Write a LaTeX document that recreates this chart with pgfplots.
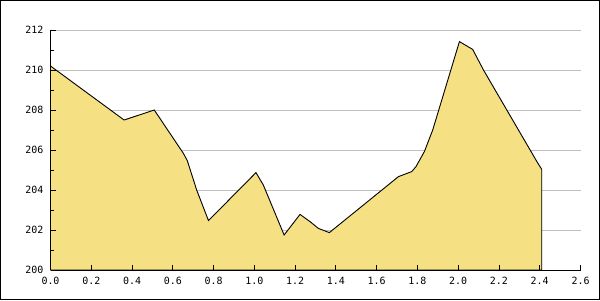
\documentclass[border=0pt]{standalone}
\usepackage{pgfplots}
\pgfplotsset{compat=1.18}
\usepackage{fontspec}
\setmainfont{DejaVu Sans Mono}
\definecolor{areafill}{RGB}{246,224,132}
\definecolor{gridgray}{RGB}{192,192,192}
\begin{document}
\begin{tikzpicture}[x=1bp,y=1bp]
\useasboundingbox (0,0) rectangle (600,300);
\fill[white] (0,0) rectangle (600,300);
\begin{axis}[
  axis on top,
  at={(50.5bp,30bp)}, anchor=south west,
  scale only axis, width=530bp, height=240bp,
  xmin=0, xmax=2.6, ymin=200, ymax=212,
  axis x line=bottom, axis y line=left,
  axis line style={-, black, line width=0.9bp},
  xtick={0,0.2,...,2.6},
  ytick={200,202,...,212},
  minor y tick num=1,
  tick align=inside,
  major tick length=5bp, minor tick length=3bp,
  tick style={black, line width=0.9bp},
  xticklabel style={/pgf/number format/fixed, /pgf/number format/fixed zerofill, /pgf/number format/precision=1, inner sep=0pt, yshift=-7bp},
  yticklabel style={/pgf/number format/fixed, inner sep=0pt, xshift=-7bp},
  /pgf/number format/assume math mode=true,
  tick label style={font=\fontsize{10}{12}\selectfont},
  clip=false,
]
\pgfplotsinvokeforeach{202,204,206,208,210,212}{
  \draw[gridgray, line width=0.9bp] (axis cs:0,#1) -- (axis cs:2.6,#1);
}
\addplot[fill=areafill, draw=black, line width=0.9bp] coordinates {
(0,210.2) (0.361,207.5) (0.509,208.0) (0.652,205.83) (0.671,205.47)
(0.717,204.0) (0.775,202.47) (1.008,204.87) (1.044,204.25) (1.146,201.75)
(1.224,202.78) (1.273,202.42) (1.314,202.08) (1.368,201.87) (1.707,204.67)
(1.772,204.92) (1.793,205.17) (1.834,205.92) (1.875,207.0) (2.006,211.42)
(2.071,211.03) (2.124,210.0) (2.386,205.42) (2.410,205.03)
} \closedcycle;
\end{axis}
\draw[black, line width=1bp] (0.5,0.5) rectangle (599.5,299.5);
\end{tikzpicture}
\end{document}
